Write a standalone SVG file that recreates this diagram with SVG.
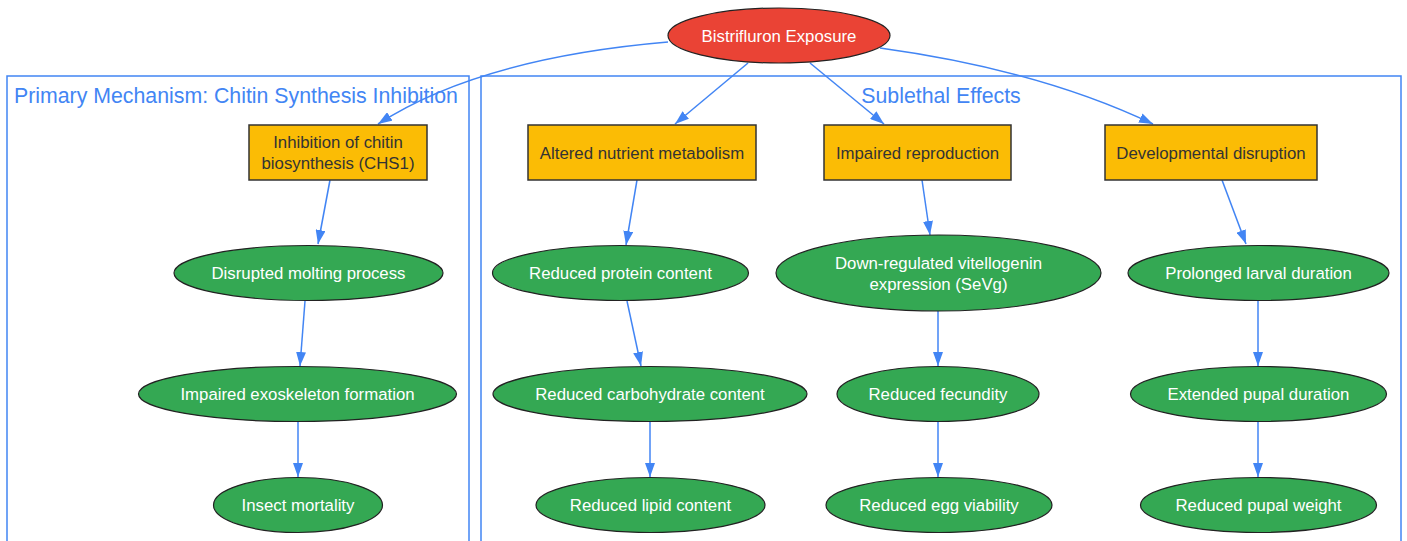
<svg xmlns="http://www.w3.org/2000/svg" width="1407" height="541" viewBox="0 0 1407 541">
<style>
.cl{fill:none;stroke:#4285F4;stroke-width:1.5}
.ct{font-family:"Liberation Sans",Arial,sans-serif;font-size:21.3px;fill:#4285F4}
.box{fill:#FBBC05;stroke:#333;stroke-width:1.5}
.bt{font-family:"Liberation Sans",Arial,sans-serif;font-size:16.8px;fill:#333;text-anchor:middle}
.el{fill:#34A853;stroke:#222;stroke-width:1.2}
.et{font-family:"Liberation Sans",Arial,sans-serif;font-size:16.8px;fill:#fff;text-anchor:middle}
.e{fill:none;stroke:#4285F4;stroke-width:1.5;marker-end:url(#ah)}
</style>
<defs>
<marker id="ah" markerUnits="userSpaceOnUse" markerWidth="14" markerHeight="10" refX="14" refY="5" orient="auto" viewBox="0 0 14 10">
<path d="M0,0 L14,5 L0,10 z" fill="#4285F4"/>
</marker>
</defs>
<rect width="1407" height="541" fill="#fff"/>
<g id="clusters">
<rect class="cl" x="7" y="76" width="462" height="480"/>
<text class="ct" x="14" y="103">Primary Mechanism: Chitin Synthesis Inhibition</text>
<rect class="cl" x="481" y="76" width="920" height="480"/>
<text class="ct" x="941" y="103" text-anchor="middle">Sublethal Effects</text>
</g>
<g id="connectors">
<path class="e" d="M668,42 Q480,58 378,124"/>
<path class="e" d="M748,63 L675,124"/>
<path class="e" d="M810,63 L884,124"/>
<path class="e" d="M880,48 Q1040,70 1153,124"/>
<path class="e" d="M330,180 L318,244"/>
<path class="e" d="M305,301 L300,366"/>
<path class="e" d="M298,422 L298,477"/>
<path class="e" d="M637,180 L626,245"/>
<path class="e" d="M627,301 L641,366"/>
<path class="e" d="M650,422 L650,477"/>
<path class="e" d="M922,180 L930,235"/>
<path class="e" d="M938,311 L938,366"/>
<path class="e" d="M938,422 L938,477"/>
<path class="e" d="M1222,180 L1246,244"/>
<path class="e" d="M1258,301 L1258,366"/>
<path class="e" d="M1258,422 L1258,477"/>
</g>
<g id="exposure">
<ellipse cx="779" cy="35.5" rx="111" ry="27.5" fill="#EA4335" stroke="#222" stroke-width="1.2"/>
<text class="et" x="779" y="41.5">Bistrifluron Exposure</text>
</g>
<g id="chitin">
<rect class="box" x="249" y="125" width="178" height="55"/>
<text class="bt" x="338" y="148">Inhibition of chitin</text>
<text class="bt" x="338" y="169">biosynthesis (CHS1)</text>
</g>
<g id="nutrient">
<rect class="box" x="528" y="125" width="228" height="55"/>
<text class="bt" x="642" y="158.5">Altered nutrient metabolism</text>
</g>
<g id="reproduction">
<rect class="box" x="824" y="125" width="187" height="55"/>
<text class="bt" x="917.5" y="158.5">Impaired reproduction</text>
</g>
<g id="development">
<rect class="box" x="1105" y="125" width="212" height="55"/>
<text class="bt" x="1211" y="158.5">Developmental disruption</text>
</g>
<g id="molting">
<ellipse class="el" cx="308.5" cy="273" rx="134.5" ry="27.5"/>
<text class="et" x="308.5" y="279">Disrupted molting process</text>
</g>
<g id="exoskeleton">
<ellipse class="el" cx="297.5" cy="394" rx="159" ry="27.5"/>
<text class="et" x="297.5" y="400">Impaired exoskeleton formation</text>
</g>
<g id="mortality">
<ellipse class="el" cx="298" cy="505" rx="84.5" ry="27.5"/>
<text class="et" x="298" y="511">Insect mortality</text>
</g>
<g id="protein">
<ellipse class="el" cx="620.5" cy="273" rx="128" ry="27.5"/>
<text class="et" x="620.5" y="279">Reduced protein content</text>
</g>
<g id="carbohydrate">
<ellipse class="el" cx="650" cy="394" rx="157" ry="27.5"/>
<text class="et" x="650" y="400">Reduced carbohydrate content</text>
</g>
<g id="lipid">
<ellipse class="el" cx="650.5" cy="505" rx="114.5" ry="27.5"/>
<text class="et" x="650.5" y="511">Reduced lipid content</text>
</g>
<g id="vitellogenin">
<ellipse class="el" cx="938.5" cy="273" rx="162.5" ry="38"/>
<text class="et" x="938.5" y="269">Down-regulated vitellogenin</text>
<text class="et" x="938.5" y="290">expression (SeVg)</text>
</g>
<g id="fecundity">
<ellipse class="el" cx="938" cy="394" rx="101" ry="27.5"/>
<text class="et" x="938" y="400">Reduced fecundity</text>
</g>
<g id="eggs">
<ellipse class="el" cx="939" cy="505" rx="113" ry="27.5"/>
<text class="et" x="939" y="511">Reduced egg viability</text>
</g>
<g id="larval">
<ellipse class="el" cx="1258.5" cy="273" rx="130.5" ry="27.5"/>
<text class="et" x="1258.5" y="279">Prolonged larval duration</text>
</g>
<g id="pupal">
<ellipse class="el" cx="1258.5" cy="394" rx="128" ry="27.5"/>
<text class="et" x="1258.5" y="400">Extended pupal duration</text>
</g>
<g id="weight">
<ellipse class="el" cx="1258.5" cy="505" rx="118" ry="27.5"/>
<text class="et" x="1258.5" y="511">Reduced pupal weight</text>
</g>
</svg>
